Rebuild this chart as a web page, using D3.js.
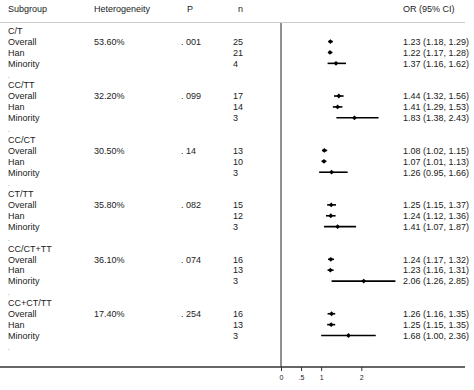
<!DOCTYPE html>
<html><head><meta charset="utf-8">
<script src="https://cdn.jsdelivr.net/npm/d3@7"></script>
<style>body{margin:0;background:#fff}svg{display:block}text{font-family:"Liberation Sans",Arial,sans-serif;fill:#222}</style>
</head><body><div id="chart"></div>
<script>
const groups = ["C/T","CC/TT","CC/CT","CT/TT","CC/CT+TT","CC+CT/TT"];
const subgroups = ["Overall","Han","Minority"];
const heterogeneity = ["53.60%","32.20%","30.50%","35.80%","36.10%","17.40%"];
const pValues = [". 001",". 099",". 14",". 082",". 074",". 254"];
const nStudies = [[25,21,4],[17,14,3],[13,10,3],[15,12,3],[16,13,3],[16,13,3]];
const orValues = [[1.23,1.22,1.37],[1.44,1.41,1.83],[1.08,1.07,1.26],[1.25,1.24,1.41],[1.24,1.23,2.06],[1.26,1.25,1.68]];
const ciLow = [[1.18,1.17,1.16],[1.32,1.29,1.38],[1.02,1.01,0.95],[1.15,1.12,1.07],[1.17,1.16,1.26],[1.16,1.15,1.00]];
const ciHigh = [[1.29,1.28,1.62],[1.56,1.53,2.43],[1.15,1.13,1.66],[1.37,1.36,1.87],[1.32,1.31,2.85],[1.35,1.35,2.36]];
const tickValues = [0,0.5,1,2];
const tickLabels = ["0",".5","1","2"];

const W=474,H=390;
const svg=d3.select("#chart").append("svg").attr("width",W).attr("height",H);
const x=d3.scaleLinear().domain([0,2]).range([281,361.3]);
const rowY=d3.scaleLinear().domain([0,29]).range([30.7,346.4]);
const fs=9;

// header
const hdr=[["Subgroup",8,"start"],["Heterogeneity",94,"start"],["P",190,"middle"],["n",238,"start"],["OR (95% CI)",403,"start"]];
svg.selectAll("text.hdr").data(hdr).join("text").attr("class","hdr")
  .attr("x",d=>d[1]).attr("y",11.5).attr("text-anchor",d=>d[2]).attr("font-size",fs).text(d=>d[0]);
svg.append("line").attr("x1",0).attr("x2",465).attr("y1",22.5).attr("y2",22.5).attr("stroke","#ccc").attr("stroke-width",1);

// rows
const rows=[];
groups.forEach((g,gi)=>{
  rows.push({k:gi*5,label:g});
  subgroups.forEach((s,si)=>{
    rows.push({k:gi*5+1+si,label:s,gi,si});
  });
  rows.push({k:gi*5+4,label:"."});
});
svg.selectAll("text.lab").data(rows).join("text").attr("class","lab")
  .attr("x",8).attr("y",d=>rowY(d.k)+3.3).attr("font-size",d=>d.label=="."?6:fs).text(d=>d.label);

const hg=svg.append("g");
groups.forEach((g,gi)=>{
  const y=rowY(gi*5+1)+3.3;
  hg.append("text").attr("x",94).attr("y",y).attr("font-size",fs).text(heterogeneity[gi]);
  hg.append("text").attr("x",181).attr("y",y).attr("font-size",fs).text(pValues[gi]);
});

const est=[];
groups.forEach((g,gi)=>subgroups.forEach((s,si)=>est.push({k:gi*5+1+si,n:nStudies[gi][si],or:orValues[gi][si],lo:ciLow[gi][si],hi:ciHigh[gi][si]})));

svg.selectAll("text.n").data(est).join("text").attr("class","n")
  .attr("x",233).attr("y",d=>rowY(d.k)+3.3).attr("font-size",fs).text(d=>d.n);
svg.selectAll("text.ci").data(est).join("text").attr("class","ci")
  .attr("x",403).attr("y",d=>rowY(d.k)+3.3).attr("font-size",fs)
  .text(d=>`${d.or.toFixed(2)} (${d.lo.toFixed(2)}, ${d.hi.toFixed(2)})`);

// null line at 0
svg.append("line").attr("x1",x(0)).attr("x2",x(0)).attr("y1",23).attr("y2",367).attr("stroke","#222").attr("stroke-width",1);

// CI lines and markers
svg.selectAll("line.ci").data(est).join("line").attr("class","ci")
  .attr("x1",d=>x(d.lo)).attr("x2",d=>x(d.hi)).attr("y1",d=>rowY(d.k)).attr("y2",d=>rowY(d.k))
  .attr("stroke","#000").attr("stroke-width",1.6);
svg.selectAll("path.mk").data(est).join("path").attr("class","mk")
  .attr("d",d=>{const cx=x(d.or),cy=rowY(d.k),r=2.4;return `M${cx-r},${cy}L${cx},${cy-r}L${cx+r},${cy}L${cx},${cy+r}Z`;})
  .attr("fill","#000");

// axis
const ax=svg.append("g").attr("transform","translate(0,367)");
ax.append("line").attr("x1",0).attr("x2",465).attr("stroke","#333").attr("stroke-width",1.3);
ax.call(g=>{
  const axis=d3.axisBottom(x).tickValues(tickValues).tickFormat((d,i)=>tickLabels[i]).tickSize(4).tickPadding(4);
  const a=g.append("g").call(axis);
  a.select(".domain").remove();
  a.selectAll("line").attr("stroke","#333");
  a.selectAll("text").attr("font-size",7).attr("fill","#222").style("font-family","Liberation Sans, Arial, sans-serif");
});
</script></body></html>
